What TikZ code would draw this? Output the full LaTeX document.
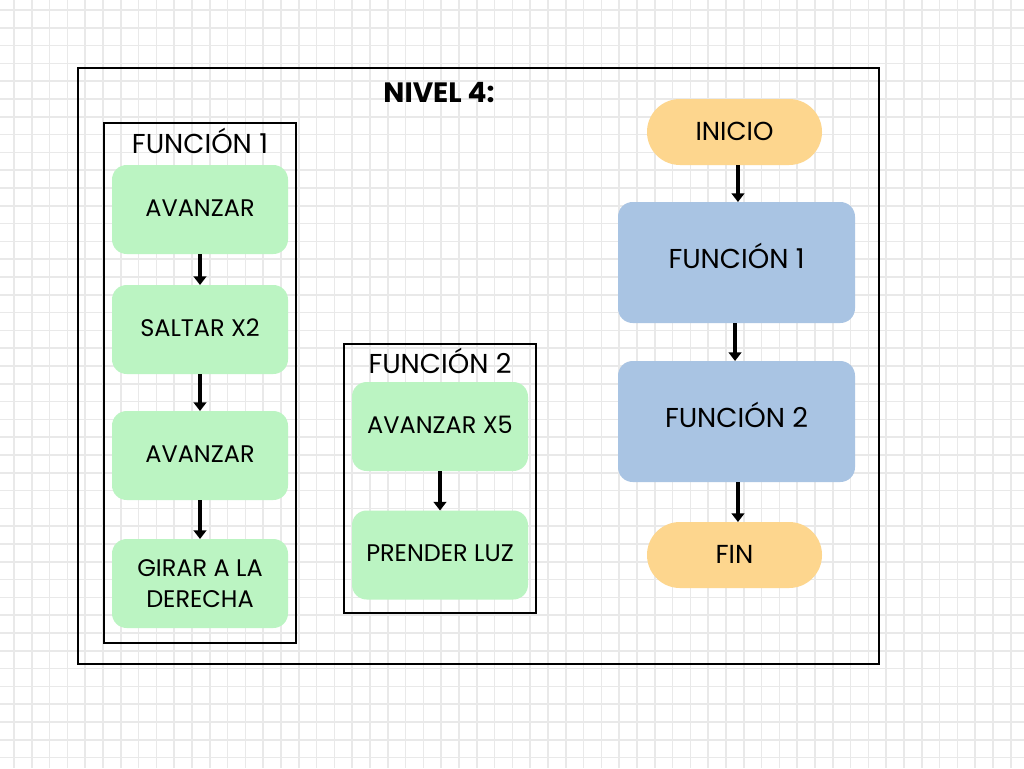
\documentclass[tikz,border=0pt]{standalone}
\usepackage{fontspec}
\setmainfont{Poppins}
\usetikzlibrary{arrows.meta}
\definecolor{gridc}{HTML}{E9E9E9}
\definecolor{greenc}{HTML}{BBF4C2}
\definecolor{bluec}{HTML}{A9C4E3}
\definecolor{orangec}{HTML}{FDD68E}
\tikzset{
  gridline/.style={draw=gridc, line width=1.1pt},
  frame/.style={draw=black, line width=1.5pt, inner sep=0pt, outer sep=0pt},
  gbox/.style={fill=greenc, rounded corners=11pt, minimum width=132pt, minimum height=66.75pt, inner sep=0pt, outer sep=0pt, align=center, font=\fontsize{18}{23.25}\selectfont},
  gcap/.style={text height=12.6pt, text depth=2.2pt},
  bbox/.style={text height=14.35pt, text depth=5.2pt, fill=bluec, rounded corners=11pt, minimum width=177.75pt, minimum height=90.75pt, inner sep=0pt, outer sep=0pt, font=\fontsize{20.5}{24}\selectfont},
  pill/.style={text height=13.65pt, text depth=0.5pt, fill=orangec, rounded corners=24.7pt, minimum width=131.25pt, minimum height=49.5pt, inner sep=0pt, outer sep=0pt, font=\fontsize{19.5}{24}\selectfont},
  lbl/.style={text height=14.35pt, text depth=0pt, inner sep=0pt, font=\fontsize{20.5}{24}\selectfont},
  arr/.style={draw=black, line width=2.8pt, -{Triangle[width=9.5pt,length=6.5pt]}},
}
\begin{document}
\begin{tikzpicture}[x=0.75pt, y=-0.75pt]
\useasboundingbox (0,0) rectangle (1024,768);
\fill[white] (0,0) rectangle (1024,768);
\foreach \i in {0,...,57} {
  \draw[gridline] ({14+17.8*\i},0) -- ({14+17.8*\i},768);
}
\foreach \i in {0,...,43} {
  \draw[gridline] (0,{10+17.8*\i}) -- (1024,{10+17.8*\i});
}
% outer frame
\node[frame, minimum width=600.75pt, minimum height=447pt] (outer) at (478.5,366) {};
\node[text height=14.7pt, text depth=0pt, inner sep=0pt, font=\fontsize{21}{24}\selectfont\bfseries] (title) at (439,93) {NIVEL 4:};
% function 1 frame
\node[frame, minimum width=144pt, minimum height=390pt] (fr1) at (200,383) {};
\node[lbl] (fr1lbl) at (200,143.7) {FUNCIÓN 1};
\node[gbox, gcap] (a1) at (200,209.5) {AVANZAR};
\node[gbox, gcap] (a2) at (200,329.5) {SALTAR X2};
\node[gbox, gcap] (a3) at (200,455.5) {AVANZAR};
\node[gbox] (a4) at (200,583.5) {GIRAR A LA\\DERECHA};
\draw[arr] (a1) -- (a2);
\draw[arr] (a2) -- (a3);
\draw[arr] (a3) -- (a4);
% function 2 frame
\node[frame, minimum width=144pt, minimum height=201.75pt] (fr2) at (440,478.5) {};
\node[lbl] (fr2lbl) at (440,363.7) {FUNCIÓN 2};
\node[gbox, gcap] (b1) at (440,426.5) {AVANZAR X5};
\node[gbox, gcap] (b2) at (440,555) {PRENDER LUZ};
\draw[arr] (b1) -- (b2);
% main flow
\node[pill] (inicio) at (734.5,132) {INICIO};
\node[bbox] (m1) at (736.5,262.5) {FUNCIÓN 1};
\node[bbox] (m2) at (736.5,421.5) {FUNCIÓN 2};
\node[pill] (fin) at (734.5,555) {FIN};
\draw[arr] ([xshift=2.6pt]inicio.south) -- ([xshift=2.6pt]inicio.south |- m1.north);
\draw[arr] ([xshift=-1.1pt]m1.south) -- ([xshift=-1.1pt]m1.south |- m2.north);
\draw[arr] ([xshift=1.1pt]m2.south) -- ([xshift=1.1pt]m2.south |- fin.north);
\end{tikzpicture}
\end{document}
